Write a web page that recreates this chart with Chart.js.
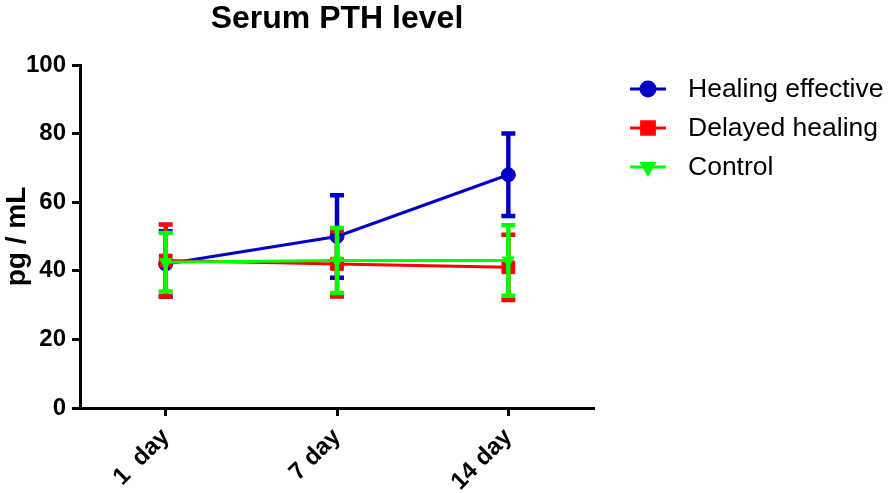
<!DOCTYPE html>
<html>
<head>
<meta charset="utf-8">
<script src="https://cdn.jsdelivr.net/npm/chart.js@4.4.1/dist/chart.umd.min.js"></script>
<style>
  html, body { margin: 0; padding: 0; background: #fff; }
  #wrap { width: 894px; height: 493px; }
</style>
</head>
<body>
<div id="wrap"><canvas id="myChart"></canvas></div>
<script>
var days = ["1  day", "7 day", "14 day"];
var seriesNames = ["Healing effective", "Delayed healing", "Control"];
var healingMean = [42, 50, 68];
var healingSD = [9.5, 12, 12];
var delayedMean = [43, 42, 41];
var delayedSD = [10.5, 9.5, 9.5];
var controlMean = [42.5, 43, 43];
var controlSD = [8.5, 9.5, 10.3];
var yTicks = [0, 20, 40, 60, 80, 100];

var fontFamily = "'Liberation Sans', Arial, Helvetica, sans-serif";
var blue = "#0000c4";
var red = "#ff0000";
var green = "#00ff00";

// mean +/- SD bars, drawn under each dataset's own line
var errorBars = {
  id: "errorBars",
  beforeDatasetDraw: function (chart, args) {
    var ds = chart.data.datasets[args.index];
    if (!ds.errors) return;
    var ctx = chart.ctx;
    var xs = chart.scales.x;
    var ys = chart.scales.y;
    ctx.save();
    ctx.strokeStyle = ds.borderColor;
    ctx.lineWidth = 4.5;
    ctx.lineCap = "butt";
    for (var i = 0; i < ds.data.length; i++) {
      var x = xs.getPixelForValue(i);
      var top = ys.getPixelForValue(ds.data[i] + ds.errors[i]);
      var bot = ys.getPixelForValue(ds.data[i] - ds.errors[i]);
      ctx.beginPath();
      ctx.moveTo(x, top);
      ctx.lineTo(x, bot);
      ctx.moveTo(x - 7, top);
      ctx.lineTo(x + 7, top);
      ctx.moveTo(x - 7, bot);
      ctx.lineTo(x + 7, bot);
      ctx.stroke();
    }
    ctx.restore();
  }
};

// legend: line sample with marker, to the right of the plot
var sideLegend = {
  id: "sideLegend",
  afterDraw: function (chart) {
    var ctx = chart.ctx;
    var area = chart.chartArea;
    ctx.save();
    chart.data.datasets.forEach(function (ds, i) {
      var y = area.top + 24 + i * 39;
      var x0 = area.right + 36;
      ctx.strokeStyle = ds.borderColor;
      ctx.fillStyle = ds.borderColor;
      ctx.lineWidth = 3;
      ctx.beginPath();
      ctx.moveTo(x0, y);
      ctx.lineTo(x0 + 36, y);
      ctx.stroke();
      Chart.helpers.drawPoint(ctx, {
        pointStyle: ds.pointStyle,
        radius: ds.pointRadius,
        rotation: ds.pointRotation || 0,
        borderWidth: 1
      }, x0 + 18, y);
      ctx.fillStyle = "#000";
      ctx.font = "26.5px " + fontFamily;
      ctx.textBaseline = "middle";
      ctx.textAlign = "left";
      ctx.fillText(ds.label, x0 + 58, y + 1);
    });
    ctx.restore();
  }
};

var ctx = document.getElementById("myChart");
var myChart = new Chart(ctx, {
  type: "line",
  data: {
    labels: days,
    datasets: [
      {
        label: seriesNames[0],
        data: healingMean,
        errors: healingSD,
        borderColor: blue,
        backgroundColor: blue,
        borderWidth: 3,
        pointStyle: "circle",
        pointRadius: 7,
        pointBorderWidth: 1,
        order: 2
      },
      {
        label: seriesNames[1],
        data: delayedMean,
        errors: delayedSD,
        borderColor: red,
        backgroundColor: red,
        borderWidth: 3,
        pointStyle: "rect",
        pointRadius: 9,
        pointBorderWidth: 1,
        order: 1
      },
      {
        label: seriesNames[2],
        data: controlMean,
        errors: controlSD,
        borderColor: green,
        backgroundColor: green,
        borderWidth: 3,
        pointStyle: "triangle",
        pointRotation: 180,
        pointRadius: 7,
        pointBorderWidth: 1,
        order: 0
      }
    ]
  },
  options: {
    responsive: true,
    maintainAspectRatio: false,
    animation: false,
    layout: { padding: { top: 0, right: 300, bottom: 0, left: 0 } },
    plugins: {
      legend: { display: false },
      tooltip: { enabled: false },
      title: {
        display: true,
        text: "Serum PTH level",
        fullSize: false,
        color: "#000",
        font: { family: fontFamily, size: 32, weight: "bold", lineHeight: 1.0 },
        padding: { top: 3, bottom: 30 }
      }
    },
    scales: {
      x: {
        offset: true,
        afterFit: function (scale) { scale.height = 85; },
        border: { display: true, color: "#000", width: 3 },
        grid: { offset: false, drawOnChartArea: false, drawTicks: true, tickLength: 8, tickColor: "#000", tickWidth: 3 },
        ticks: {
          color: "#000",
          font: { family: fontFamily, size: 24, weight: "bold" },
          minRotation: 45,
          maxRotation: 45,
          autoSkip: false,
          padding: 7
        }
      },
      y: {
        min: yTicks[0],
        max: yTicks[yTicks.length - 1],
        afterFit: function (scale) { scale.width = 80; },
        border: { display: true, color: "#000", width: 3 },
        grid: { drawOnChartArea: false, drawTicks: true, tickLength: 8, tickColor: "#000", tickWidth: 3 },
        ticks: {
          stepSize: yTicks[1] - yTicks[0],
          color: "#000",
          font: { family: fontFamily, size: 24, weight: "bold" },
          padding: 6
        },
        title: {
          display: true,
          text: "pg / mL",
          color: "#000",
          font: { family: fontFamily, size: 28, weight: "bold" },
          padding: 0
        }
      }
    }
  },
  plugins: [errorBars, sideLegend]
});
</script>
</body>
</html>
